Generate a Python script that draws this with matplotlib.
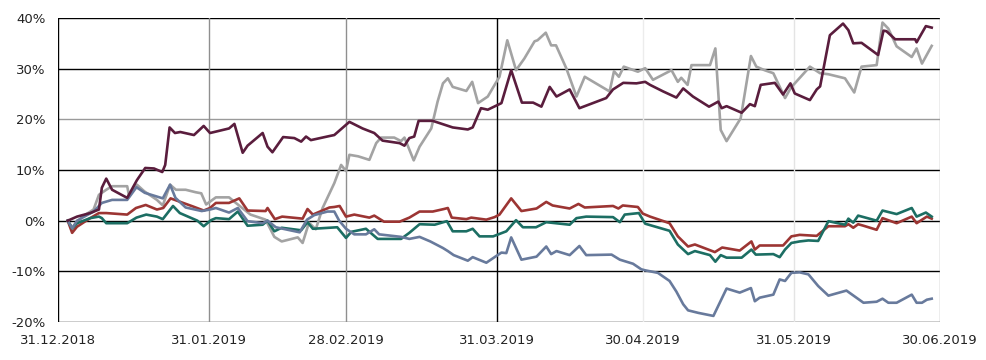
import matplotlib
matplotlib.use("Agg")
import matplotlib.pyplot as plt

# ---- axis data ----
tick_days = [0, 31, 59, 90, 120, 151, 181]
tick_labels = ["31.12.2018", "31.01.2019", "28.02.2019", "31.03.2019",
               "30.04.2019", "31.05.2019", "30.06.2019"]
y_ticks = [-20, -10, 0, 10, 20, 30, 40]

# ---- series (days after 31.12.2018, performance in %) ----
maroon_days = [2, 3.9, 6.6, 8.4, 9.0, 9.9, 11.1, 14.2, 16.2, 17.9, 19.7, 21.4, 22.0, 22.9,
               24.0, 25.1, 27.9, 29.9, 31.2, 35.1, 36.2, 37.9, 38.9, 42.0, 43.0, 44.0, 46.2,
               48.5, 49.9, 50.9, 51.9, 55.7, 56.7, 59.8, 62.5, 64.9, 66.6, 70.1, 71.1, 72.1,
               73.1, 74.0, 76.9, 81.0, 84.1, 85.1, 86.8, 88.2, 91.0, 93.0, 95.2, 97.5, 99.2,
               100.9, 102.3, 105.0, 107.0, 112.5, 113.9, 116.0, 118.7, 120.5, 121.5, 124.2,
               126.9, 128.3, 130.3, 133.6, 135.5, 136.2, 137.2, 140.3, 142.0, 143.0, 144.2,
               147.1, 148.8, 150.3, 151.2, 154.3, 155.7, 156.4, 158.4, 161.1, 162.2, 163.2,
               164.9, 168.3, 169.4, 170.0, 171.8, 175.9, 176.2, 178.1, 179.3]
maroon_vals = [0, 0.8, 1.5, 2.2, 6.5, 8.3, 6.1, 4.5, 8.0, 10.4, 10.3, 9.6, 11.0, 18.4,
               17.3, 17.5, 16.9, 18.7, 17.3, 18.2, 19.1, 13.4, 14.8, 17.3, 14.6, 13.5, 16.5,
               16.3, 15.6, 16.6, 15.9, 16.7, 16.9, 19.5, 18.2, 17.3, 15.8, 15.3, 14.8, 16.3,
               16.6, 19.7, 19.7, 18.4, 18.0, 18.4, 22.2, 21.9, 23.2, 29.7, 23.3, 23.3, 22.5,
               26.4, 24.5, 25.9, 22.2, 24.2, 25.9, 27.2, 27.1, 27.4, 26.8, 25.5,
               24.3, 26.1, 24.5, 22.5, 23.5, 22.2, 22.6, 21.3, 23.0, 22.6, 26.8,
               27.2, 24.9, 27.1, 25.1, 23.8, 25.9, 26.5, 36.6, 38.9, 37.6, 35.0,
               35.1, 32.7, 37.5, 37.4, 35.8, 35.8, 35.2, 38.4, 38.1]

grey_days = [2, 3.0, 5.0, 7.3, 8.4, 9.9, 11.1, 14.2, 14.6, 16.2, 17.7, 20.3, 21.5, 23.0,
             24.2, 26.2, 28.3, 29.4, 30.4, 32.4, 35.1, 36.5, 39.5, 42.6, 44.4, 45.9, 49.2,
             50.2, 51.5, 52.9, 54.3, 56.7, 58.1, 59.1, 59.8, 61.6, 63.9, 65.3, 66.3, 69.0,
             70.4, 71.1, 73.0, 74.2, 76.6, 77.9, 79.0, 80.0, 81.0, 83.8, 85.0, 86.2, 88.2,
             89.6, 90.6, 92.2, 94.0, 95.7, 97.8, 98.4, 100.1, 101.2, 102.2, 104.3, 106.4,
             108.1, 113.2, 114.1, 115.1, 116.1, 119.0, 120.5, 122.1, 125.9, 127.2, 127.9,
             129.2, 130.0, 133.8, 134.9, 136.0, 137.2, 140.1, 142.2, 143.3, 145.0, 146.8,
             149.2, 150.5, 151.2, 154.3, 156.4, 158.1, 161.5, 163.4, 164.9, 168.0, 169.2,
             170.4, 172.1, 175.2, 176.2, 177.3, 179.3]
grey_vals = [0, -1.5, 0.8, 2.2, 5.1, 6.1, 6.8, 6.8, 4.8, 7.1, 5.8, 4.1, 3.0, 7.1,
             6.1, 6.1, 5.6, 5.4, 3.2, 4.6, 4.6, 3.5, 1.2, 0.2, -3.2, -4.1, -3.3,
             -4.4, -0.4, -1.7, 2.5, 7.4, 11.0, 9.8, 13.0, 12.7, 12.0, 15.3, 16.4, 16.4,
             15.7, 16.4, 11.9, 14.6, 18.2, 23.5, 27.1, 28.1, 26.4, 25.6, 27.4, 23.2, 24.5,
             26.8, 28.4, 35.6, 29.7, 32.0, 35.4, 35.6, 37.1, 34.6, 34.6, 30.1, 24.5,
             28.4, 25.5, 29.5, 28.4, 30.4, 29.4, 30.1, 27.8, 29.7, 27.4, 28.2,
             26.8, 30.7, 30.7, 34.0, 17.9, 15.7, 20.2, 32.5, 30.4, 29.7, 29.1,
             24.2, 26.4, 27.1, 30.4, 29.1, 28.9, 28.1, 25.3, 30.4, 30.7, 39.1,
             37.9, 34.4, 32.3, 34.0, 31.0, 34.5]

red_days = [2, 2.9, 3.9, 6.6, 8.4, 9.9, 14.2, 16.0, 18.0, 20.3, 21.6, 23.1, 27.7, 29.9,
            31.2, 32.4, 35.1, 37.2, 38.9, 42.6, 43.0, 44.5, 46.0, 50.2, 51.2, 52.3, 55.7,
            56.7, 57.8, 59.1, 60.8, 63.9, 64.9, 66.9, 70.1, 72.1, 74.2, 76.9, 79.2, 80.0,
            80.8, 83.8, 84.8, 87.9, 89.6, 90.6, 93.0, 95.1, 98.2, 100.2, 101.5, 105.0,
            106.8, 108.1, 113.9, 115.0, 115.9, 119.0, 120.0, 121.5, 125.5, 127.2, 129.3,
            130.7, 134.8, 136.3, 139.9, 142.3, 143.0, 144.0, 148.8, 150.5, 152.2, 155.7,
            158.1, 161.5, 162.2, 163.2, 164.2, 165.3, 168.0, 169.2, 172.1, 175.2, 176.2,
            178.3, 179.3]
red_vals = [0, -2.4, -1.2, 0.5, 1.5, 1.5, 1.2, 2.5, 3.1, 2.2, 2.5, 4.4, 2.8, 2.0,
            2.5, 3.5, 3.5, 4.4, 2.0, 1.9, 2.5, 0.3, 0.8, 0.4, 2.3, 1.2, 2.6,
            2.7, 2.9, 0.8, 1.2, 0.6, 1.0, -0.2, -0.2, 0.6, 1.8, 1.8, 2.3, 2.5,
            0.6, 0.3, 0.6, 0.2, 0.7, 1.2, 4.4, 1.9, 2.4, 3.7, 3.0, 2.4,
            3.3, 2.6, 2.9, 2.4, 3.0, 2.7, 1.4, 0.8, -0.5, -3.1, -5.1,
            -4.7, -6.2, -5.3, -5.9, -4.1, -5.7, -4.9, -4.9, -3.1, -2.8, -3.0,
            -1.1, -1.1, -0.7, -1.4, -0.7, -1.0, -1.8, 0.5, -0.5, 0.8, -0.5,
            0.8, 0.4]

teal_days = [2, 2.9, 3.9, 6.6, 8.4, 9.0, 9.9, 14.2, 16.1, 18.1, 20.3, 21.5, 23.6, 25.0,
             28.6, 29.9, 31.4, 32.4, 35.1, 36.9, 38.9, 42.0, 43.0, 44.4, 45.9, 49.9, 51.2,
             52.3, 55.7, 57.3, 59.1, 60.2, 63.2, 65.6, 70.4, 72.1, 74.2, 77.3, 79.8, 81.0,
             83.8, 85.1, 86.5, 89.3, 92.0, 94.0, 95.4, 98.1, 100.2, 105.0, 106.4, 108.4,
             113.9, 115.3, 116.3, 119.2, 120.5, 125.5, 127.2, 129.3, 130.7, 133.8, 134.9,
             136.0, 137.2, 140.3, 142.3, 143.2, 146.8, 148.1, 149.2, 150.5, 152.2, 154.0,
             156.0, 158.1, 161.5, 162.2, 163.2, 164.2, 168.0, 169.2, 172.1, 175.2, 176.2,
             178.1, 179.3]
teal_vals = [0, -1.5, -0.5, 0.5, 0.8, 0.5, -0.5, -0.5, 0.6, 1.2, 0.8, 0.3, 2.9, 1.5,
             0.0, -1.1, 0.1, 0.5, 0.3, 1.8, -1.0, -0.8, 0.0, -2.1, -1.4, -1.9, -0.3,
             -1.6, -1.4, -1.3, -3.4, -2.2, -1.6, -3.6, -3.6, -2.4, -0.7, -0.8, -0.1, -2.1,
             -2.1, -1.6, -3.1, -3.1, -2.1, 0.1, -1.3, -1.3, -0.3, -0.8, 0.5, 0.8,
             0.7, -0.3, 1.2, 1.5, -0.6, -2.0, -4.7, -6.6, -6.0, -6.8, -8.1,
             -6.8, -7.3, -7.3, -5.7, -6.7, -6.6, -7.2, -5.7, -4.4, -4.1, -3.9,
             -4.0, -0.1, -0.8, 0.4, -0.4, 1.0, 0.0, 2.0, 1.3, 2.5, 0.8,
             1.6, 0.8]

blue_days = [2, 2.9, 3.9, 7.3, 9.0, 11.1, 14.2, 16.1, 17.8, 21.5, 23.0, 24.1, 26.2, 29.5,
             31.2, 32.4, 35.1, 36.9, 38.9, 42.0, 43.0, 44.7, 49.6, 51.1, 52.6, 55.3, 56.7,
             57.7, 59.1, 60.8, 63.2, 64.9, 65.9, 70.4, 72.1, 74.2, 76.4, 79.0, 80.0, 81.2,
             84.1, 85.1, 87.9, 89.9, 91.0, 92.0, 93.0, 95.1, 98.2, 100.2, 101.2, 102.3,
             105.0, 107.0, 108.4, 113.6, 115.3, 118.0, 119.7, 120.5, 123.1, 125.5, 126.9,
             128.3, 129.3, 131.4, 134.5, 137.2, 139.9, 142.2, 143.0, 144.0, 146.8, 148.1,
             149.2, 150.5, 152.2, 154.0, 156.0, 158.1, 161.8, 165.3, 168.0, 169.2, 170.4,
             172.1, 175.2, 176.2, 177.3, 178.3, 179.3]
blue_vals = [0, -1.5, 0.0, 1.8, 3.5, 4.1, 4.1, 6.6, 5.5, 4.4, 7.1, 4.5, 2.6, 1.9,
             2.2, 2.5, 1.6, 2.5, -0.1, -0.5, 0.0, -1.3, -2.3, 0.2, 1.1, 1.8, 1.8,
             0.0, -1.6, -2.7, -2.7, -1.7, -2.7, -3.2, -3.6, -3.2, -4.1, -5.4, -6.0, -6.8,
             -7.9, -7.2, -8.3, -7.0, -6.3, -6.4, -3.3, -7.7, -7.1, -5.1, -6.6, -6.0,
             -6.8, -5.0, -6.8, -6.7, -7.7, -8.5, -9.6, -9.8, -10.3, -11.9, -14.0,
             -16.5, -17.7, -18.2, -18.8, -13.4, -14.2, -13.3, -15.9, -15.2, -14.6, -11.6,
             -11.9, -10.3, -10.2, -10.6, -12.9, -14.8, -13.8, -16.2, -16.0, -15.4, -16.2,
             -16.2, -14.6, -16.2, -16.2, -15.6, -15.4]

series = [
    (grey_days, grey_vals, "#a3a3a3"),
    (red_days, red_vals, "#9c3533"),
    (teal_days, teal_vals, "#1c6e63"),
    (blue_days, blue_vals, "#687a9c"),
    (maroon_days, maroon_vals, "#5a1d3d"),
]

W, H = 986, 360
fig = plt.figure(figsize=(W / 100, H / 100), dpi=100)
ax = fig.add_axes([58 / W, 38 / H, 882 / W, 304 / H])
ax.set_xlim(0, 181)
ax.set_ylim(-20, 40)

# horizontal grid lines
hcolors = {40: "black", 30: "black", 20: "#9a9a9a", 10: "black",
           0: "black", -10: "black", -20: "black"}
for yv in y_ticks:
    ax.axhline(yv, color=hcolors[yv], lw=1.0, zorder=1)

# vertical grid lines
vcolors = ["black", "#8f8f8f", "#8f8f8f", "black", "#ececec", "#e4e4e4", "#a8a8a8"]
for d, c in zip(tick_days, vcolors):
    ax.axvline(d, color=c, lw=1.0, zorder=1)

for dx, vy, c in series:
    ax.plot(dx, vy, color=c, lw=1.9, zorder=3, solid_joinstyle="round")

for s in ax.spines.values():
    s.set_visible(False)

ax.set_xticks(tick_days)
ax.set_xticklabels(tick_labels)
ax.set_yticks(y_ticks)
ax.set_yticklabels([f"{v}%" for v in y_ticks])
ax.tick_params(axis="both", length=0, labelsize=9.5, colors="#222222")
ax.tick_params(axis="x", pad=9)
ax.tick_params(axis="y", pad=9)

fig.savefig("out.png", dpi=100, facecolor="white")
